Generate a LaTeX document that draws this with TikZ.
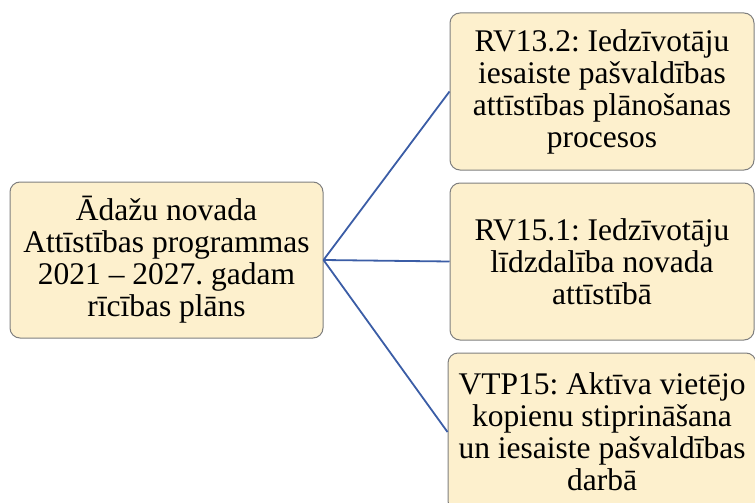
\documentclass[tikz,border=0pt]{standalone}
\usepackage{fontspec}
\setmainfont{Liberation Serif}
\frenchspacing
\definecolor{boxfill}{HTML}{FDF0CD}
\definecolor{boxline}{HTML}{7F7F7F}
\definecolor{conn}{HTML}{3B5DA6}
\begin{document}
\begin{tikzpicture}[x=1pt,y=-1pt,
  box/.style={draw=boxline,fill=boxfill,line width=1pt,rounded corners=10pt,
    align=center,inner sep=0pt,font=\fontsize{31.5}{32}\selectfont\frenchspacing},
  link/.style={draw=conn,line width=1.8pt}]
\useasboundingbox (0,0) rectangle (755,503);
\clip (0,0) rectangle (755,503);
\node[box,minimum width=313pt,minimum height=156pt] (root) at (166.5,260) {Ādažu novada\\Attīstības programmas\\2021 – 2027. gadam\\rīcības plāns};
\node[box,minimum width=304pt,minimum height=157pt] (a) at (602,91.5) {RV13.2: Iedzīvotāju\\iesaiste pašvaldības\\attīstības plānošanas\\procesos};
\node[box,minimum width=304pt,minimum height=157pt] (b) at (602,261.5) {RV15.1: Iedzīvotāju\\līdzdalība novada\\attīstībā};
\node[box,minimum width=308pt,minimum height=158pt] (c) at (602,432) {VTP15: Aktīva vietējo\\kopienu stiprināšana\\un iesaiste pašvaldības\\darbā};
\draw[link] (root.east) -- (a.west);
\draw[link] (root.east) -- (b.west);
\draw[link] (root.east) -- (c.west);
\end{tikzpicture}
\end{document}
